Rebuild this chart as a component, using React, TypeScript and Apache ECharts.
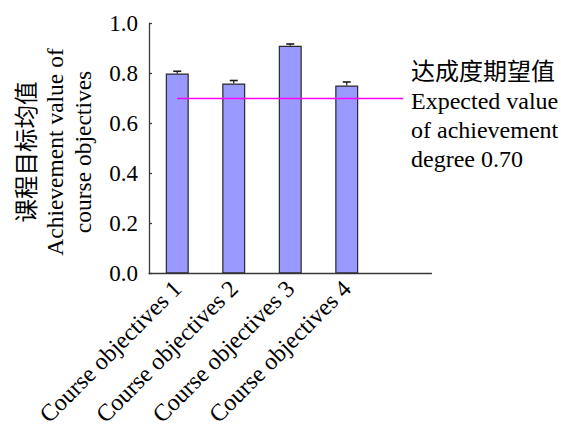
import React, { useEffect, useRef } from "react";
import * as echarts from "echarts";

const categories = ["Course objectives 1", "Course objectives 2", "Course objectives 3", "Course objectives 4", ""];
const meanValues = [0.80, 0.76, 0.911, 0.752];
const errorTops = [0.809, 0.772, 0.918, 0.766];
const expectedValue = 0.7;
const yTicks = { min: 0, max: 1, interval: 0.2 };
const yNameLines = ["课程目标均值", "Achievement value of", "course objectives"];
const noteLines = ["达成度期望值", "Expected value", "of achievement", "degree 0.70"];

const FONT = '"Liberation Serif", "Noto Sans CJK SC", serif';
const AXIS_COLOR = "#3a3a3a";

export default function App() {
  const ref = useRef<HTMLDivElement>(null);
  useEffect(() => {
    if (!ref.current) return;
    const chart = echarts.init(ref.current, undefined, { renderer: "svg" });
    const option: any = {
      animation: false,
      backgroundColor: "#ffffff",
      grid: { left: 149, right: 129.5, top: 23.5, bottom: 152, containLabel: false },
      xAxis: {
        type: "category",
        data: categories,
        boundaryGap: true,
        axisLine: { lineStyle: { color: AXIS_COLOR, width: 1.3 } },
        axisTick: { inside: true, length: 4, alignWithLabel: false, lineStyle: { color: AXIS_COLOR, width: 1.3 } },
        axisLabel: { rotate: 45, margin: 11, interval: 0, color: "#000", fontFamily: FONT, fontSize: 24 },
      },
      yAxis: {
        type: "value",
        min: yTicks.min,
        max: yTicks.max,
        interval: yTicks.interval,
        splitLine: { show: false },
        axisLine: { show: true, lineStyle: { color: AXIS_COLOR, width: 1.3 } },
        axisTick: { show: true, inside: true, length: 3, lineStyle: { color: AXIS_COLOR, width: 1.3 } },
        axisLabel: {
          color: "#000",
          fontFamily: FONT,
          fontSize: 23,
          margin: 11,
          formatter: (v: number) => v.toFixed(1),
        },
      },
      series: [
        {
          type: "bar",
          data: meanValues,
          barWidth: 23,
          itemStyle: { color: "#9999ff", borderColor: "#2a2a2a", borderWidth: 1.2 },
          markLine: {
            symbol: "none",
            silent: true,
            label: { show: false },
            lineStyle: { color: "#ff00ff", width: 1.3, type: "solid" },
            data: [[{ coord: [0, expectedValue] }, { coord: [4, expectedValue] }]],
          },
          z: 2,
        },
        {
          type: "custom",
          data: meanValues.map((v, i) => [i, v, errorTops[i]]),
          z: 3,
          renderItem: (params: any, api: any) => {
            const i = api.value(0);
            const base = api.coord([i, api.value(1)]);
            const top = api.coord([i, api.value(2)]);
            const half = 4;
            const style = { stroke: "#1a1a1a", lineWidth: 1.2, fill: "none" };
            return {
              type: "group",
              children: [
                { type: "line", shape: { x1: base[0], y1: base[1], x2: top[0], y2: top[1] }, style },
                { type: "line", shape: { x1: top[0] - half, y1: top[1], x2: top[0] + half, y2: top[1] }, style: { ...style, lineWidth: 1.6 } },
              ],
            };
          },
        },
      ],
      graphic: [
        {
          type: "text",
          x: 55,
          y: 152,
          rotation: Math.PI / 2,
          style: {
            text: yNameLines.join("\n"),
            fontFamily: FONT,
            fontSize: 23.5,
            lineHeight: 28,
            fill: "#000",
            textAlign: "center",
            textVerticalAlign: "middle",
          },
        },
        {
          type: "text",
          left: 411,
          top: 57.5,
          style: {
            text: noteLines.join("\n"),
            fontFamily: FONT,
            fontSize: 24,
            lineHeight: 29,
            fill: "#000",
          },
        },
      ],
    };
    chart.setOption(option);
    return () => chart.dispose();
  }, []);
  return <div ref={ref} style={{ position: "absolute", left: 0, top: 0, width: 561, height: 429 }} />;
}
